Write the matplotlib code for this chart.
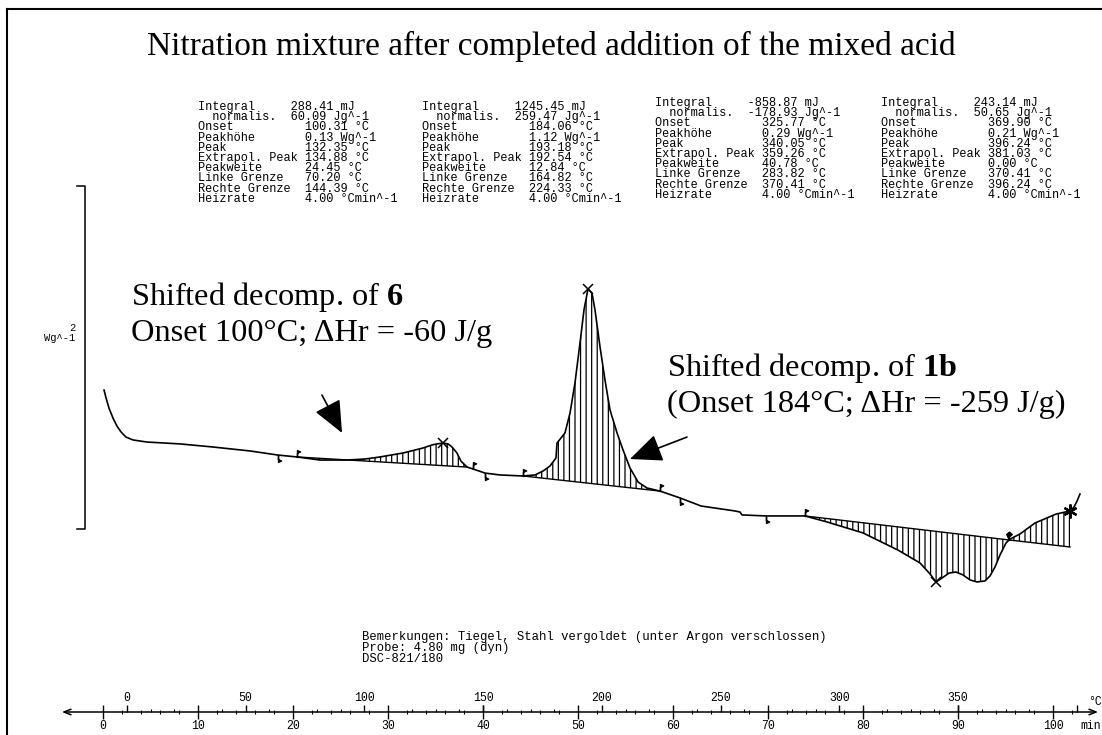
import numpy as np
import matplotlib
matplotlib.use('Agg')
import matplotlib.pyplot as plt
from matplotlib.path import Path
from matplotlib.lines import Line2D

plt.rcParams['mathtext.fontset'] = 'custom'
plt.rcParams['mathtext.rm'] = 'Liberation Serif'
plt.rcParams['mathtext.bf'] = 'Liberation Serif:bold'
plt.rcParams['hatch.linewidth'] = 0.9

SERIF = 'Liberation Serif'
MONO = 'Liberation Mono'

# DSC trace: time in min, heat flow in W/g (exo up)
time_min = [0.11, 0.32, 0.63, 1.05, 1.47, 1.89, 2.42, 3.16, 4.63, 8.11,
            11.58, 15.47, 18.42, 20.42, 22.84, 25.68, 27.58, 29.16, 31.58, 33.68,
            34.63, 35.16, 35.79, 36.32, 36.74, 37.26, 37.68, 38.32, 38.95, 40.21,
            41.79, 44.21, 45.47, 46.32, 47.05, 47.68, 47.79, 48.63, 49.16, 49.68,
            50.21, 50.63, 51.05, 51.47, 51.79, 52.32, 52.84, 53.37, 54.11, 54.74,
            55.47, 56.32, 57.26, 58.63, 60.74, 62.95, 66.53, 67.05, 67.26, 69.79,
            73.89, 76.21, 80.00, 83.68, 86.00, 87.05, 87.68, 88.32, 89.05, 89.79,
            90.53, 91.26, 92.00, 92.84, 93.37, 93.89, 94.42, 95.05, 95.37, 95.68,
            96.53, 98.11, 100.32, 101.79, 102.21, 102.53, 102.84]
heat_flow = [0.641, 0.595, 0.536, 0.478, 0.431, 0.397, 0.367, 0.350, 0.338, 0.327,
             0.309, 0.286, 0.262, 0.251, 0.233, 0.233, 0.239, 0.251, 0.274, 0.303,
             0.321, 0.327, 0.332, 0.327, 0.309, 0.274, 0.227, 0.192, 0.181, 0.157,
             0.146, 0.140, 0.146, 0.169, 0.198, 0.245, 0.332, 0.391, 0.507, 0.682,
             0.915, 1.108, 1.230, 1.207, 1.108, 0.892, 0.700, 0.525, 0.391, 0.292,
             0.187, 0.105, 0.070, 0.052, 0.012, -0.035, -0.064, -0.070, -0.087, -0.093,
             -0.093, -0.128, -0.192, -0.292, -0.367, -0.431, -0.478, -0.455, -0.426, -0.420,
             -0.437, -0.466, -0.478, -0.472, -0.443, -0.391, -0.321, -0.251, -0.233, -0.222,
             -0.198, -0.134, -0.082, -0.064, -0.041, -0.006, 0.035]

# integration baselines: (start, end) time and heat flow
base_t = [(20.42, 38.32), (44.21, 58.63), (73.89, 95.37), (95.37, 101.79)]
base_hf = [(0.251, 0.192), (0.140, 0.052), (-0.093, -0.233), (-0.233, -0.274)]

# evaluation marks on the trace
flag_up_t = [20.42, 38.95, 44.21, 58.63, 73.89]
flag_down_t = [18.42, 40.21, 60.74, 69.79]
diamond_t = [95.37]
peak_t = [35.79, 51.05, 87.68]
end_t = [101.79]

# scale bar
scale_wg = 2.0
scale_bottom = -0.17

# time axis / temperature axis
time_ticks = list(range(0, 101, 10))
temp_ticks = [0, 50, 100, 150, 200, 250, 300, 350, 400]
temp_labels = ['0', '50', '100', '150', '200', '250', '300', '350', '']
heat_rate = 4.0
temp_start = -10.0

row_labels = ['Integral', '  normalis.', 'Onset', 'Peakhöhe', 'Peak',
              'Extrapol. Peak', 'Peakweite', 'Linke Grenze', 'Rechte Grenze', 'Heizrate']
peak1_vals = ['288.41 mJ', '60.09 Jg^-1', '100.31 °C', '0.13 Wg^-1', '132.35 °C',
              '134.88 °C', '24.45 °C', '70.20 °C', '144.39 °C', '4.00 °Cmin^-1']
peak2_vals = ['1245.45 mJ', '259.47 Jg^-1', '184.06 °C', '1.12 Wg^-1', '193.18 °C',
              '192.54 °C', '12.84 °C', '164.82 °C', '224.33 °C', '4.00 °Cmin^-1']
peak3_vals = ['-858.87 mJ', '-178.93 Jg^-1', '325.77 °C', '0.29 Wg^-1', '340.05 °C',
              '359.26 °C', '40.78 °C', '283.82 °C', '370.41 °C', '4.00 °Cmin^-1']
peak4_vals = ['243.14 mJ', '50.65 Jg^-1', '369.90 °C', '0.21 Wg^-1', '396.24 °C',
              '381.03 °C', '0.00 °C', '370.41 °C', '396.24 °C', '4.00 °Cmin^-1']

notes = ['Bemerkungen: Tiegel, Stahl vergoldet (unter Argon verschlossen)',
         'Probe: 4.80 mg (dyn)',
         'DSC-821/180']

W, H = 1102, 735


def fx(x):
    return x / W


def fy(y):
    return 1 - y / H


fig = plt.figure(figsize=(W / 100, H / 100), dpi=100, facecolor='white')
ax = fig.add_axes([0, 0, 1, 1])
ax.set_xlim(-103 / 9.5, (W - 103) / 9.5)
ax.set_ylim((500 - H) / 171.5, 500 / 171.5)
ax.axis('off')

t = np.array(time_min)
hf = np.array(heat_flow)

for (t0, t1), (b0, b1) in zip(base_t, base_hf):
    m = (t >= t0 - 1e-9) & (t <= t1 + 1e-9)
    tt = t[m]
    base = np.interp(tt, [t0, t1], [b0, b1])
    ax.fill_between(tt, hf[m], base, facecolor='none', edgecolor='black',
                    hatch='|||', linewidth=0)
    ax.plot([t0, t1], [b0, b1], color='black', lw=1.0)

ax.plot(t, hf, color='black', lw=1.2, zorder=3)

# flag markers
up_flag = Path([(0, 0), (0, 1), (0.45, 0.8), (0, 0.6), (0, 0)],
               [Path.MOVETO, Path.LINETO, Path.LINETO, Path.LINETO, Path.CLOSEPOLY])
down_flag = Path([(0, 0), (0, -1), (0.45, -0.8), (0, -0.6), (0, 0)],
                 [Path.MOVETO, Path.LINETO, Path.LINETO, Path.LINETO, Path.CLOSEPOLY])
dia_flag = Path([(0, 0), (0, 0.45), (0.35, 0.75), (0, 1.05), (-0.35, 0.75), (0, 0.45)],
                [Path.MOVETO, Path.LINETO, Path.LINETO, Path.LINETO, Path.LINETO, Path.CLOSEPOLY])

ax.plot(flag_up_t, np.interp(flag_up_t, t, hf), ls='none', marker=up_flag,
        ms=10, color='black', mew=1, zorder=4)
ax.plot(flag_down_t, np.interp(flag_down_t, t, hf), ls='none', marker=down_flag,
        ms=10, color='black', mew=1, zorder=4)
ax.plot(diamond_t, np.interp(diamond_t, t, hf), ls='none', marker=dia_flag,
        ms=12, color='black', mew=1, zorder=4)
ax.plot(peak_t, np.interp(peak_t, t, hf), ls='none', marker='x',
        ms=7, color='black', mew=1.1, zorder=4)
ax.plot(end_t, np.interp(end_t, t, hf), ls='none', marker=(6, 2, 0),
        ms=10, color='black', mew=1.6, zorder=4)

# scale bar 2 W/g
bar_t, hook_t = -1.9, -2.74
ax.plot([hook_t, bar_t, bar_t, hook_t],
        [scale_bottom + scale_wg, scale_bottom + scale_wg, scale_bottom, scale_bottom],
        color='black', lw=1.1)
fig.text(fx(75), fy(331), '%d' % scale_wg, family=MONO, fontsize=7.5, ha='right', va='baseline')
fig.text(fx(75), fy(341), 'Wg^-1', family=MONO, fontsize=7.5, ha='right', va='baseline')

# arrows
arrow_kw = dict(arrowstyle='-|>,head_length=0.8,head_width=0.35', mutation_scale=25,
                lw=1.2, color='black', shrinkA=0, shrinkB=0)
ax.annotate('', xy=(25.16, 0.391), xytext=(23.05, 0.612), arrowprops=arrow_kw)
ax.annotate('', xy=(55.47, 0.239), xytext=(61.47, 0.367), arrowprops=arrow_kw)

# texts
fig.text(fx(551), fy(55), 'Nitration mixture after completed addition of the mixed acid',
         family=SERIF, fontsize=24, ha='center', va='baseline')
fig.text(fx(131), fy(305), r'Shifted decomp. of $\mathbf{6}$', family=SERIF, fontsize=23.3, va='baseline')
fig.text(fx(131), fy(341), 'Onset 100°C; ΔHr = -60 J/g', family=SERIF, fontsize=23.3, va='baseline')
fig.text(fx(667), fy(376), r'Shifted decomp. of $\mathbf{1b}$', family=SERIF, fontsize=23.3, va='baseline')
fig.text(fx(667), fy(412), '(Onset 184°C; ΔHr = -259 J/g)', family=SERIF, fontsize=23.3, va='baseline')

# result tables of the four evaluated peaks
blocks = [peak1_vals, peak2_vals, peak3_vals, peak4_vals]
block_x = [198, 422, 655, 881]
block_top = [101, 101, 97, 97]
for vals, bx, by in zip(blocks, block_x, block_top):
    lines = []
    for i, (lab, v) in enumerate(zip(row_labels, vals)):
        lines.append(lab.ljust(13 if i < 2 else 15) + v)
    fig.text(fx(bx), fy(by), '\n'.join(lines), family=MONO, fontsize=8.6,
             va='top', linespacing=0.8)

fig.text(fx(362), fy(631), '\n'.join(notes), family=MONO, fontsize=8.8,
         va='top', linespacing=0.9)

# frame of the printout
fig.add_artist(Line2D([fx(7), fx(7)], [0, fy(9)], color='black', lw=1.5))
fig.add_artist(Line2D([fx(7), 1], [fy(9), fy(9)], color='black', lw=1.5))

# time / temperature axis
axt = fig.add_axes([0, fy(712), 1, 0.0001])
axt.set_xlim(ax.get_xlim())
axt.patch.set_visible(False)
for s in axt.spines.values():
    s.set_visible(False)
axt.set_yticks([])
axt.set_xticks(time_ticks)
axt.set_xticks(np.arange(0, 103, 2), minor=True)
axt.tick_params(axis='x', which='major', direction='inout', length=10, width=1,
                labelsize=8.3, pad=1)
axt.tick_params(axis='x', which='minor', direction='inout', length=3, width=0.8)
for lab in axt.get_xticklabels():
    lab.set_family(MONO)

sec = axt.secondary_xaxis('top', functions=(lambda x: heat_rate * x + temp_start,
                                            lambda T: (T - temp_start) / heat_rate))
sec.spines['top'].set_visible(False)
sec.set_xticks(temp_ticks, temp_labels)
sec.set_xticks(np.arange(0, 401, 10), minor=True)
sec.tick_params(axis='x', which='major', direction='out', length=5, width=1,
                labelsize=8.3, pad=1)
sec.tick_params(axis='x', which='minor', direction='out', length=2.5, width=0.8)
for lab in sec.get_xticklabels():
    lab.set_family(MONO)

axt.annotate('', xy=(-4.32, 0), xytext=(104.74, 0), xycoords=axt.get_xaxis_transform(),
             arrowprops=dict(arrowstyle='<->,head_length=0.5,head_width=0.2', lw=1.1,
                             color='black', shrinkA=0, shrinkB=0))
fig.text(fx(1088), fy(705), '°C', family=MONO, fontsize=8.3, va='baseline')
fig.text(fx(1080), fy(729), 'min', family=MONO, fontsize=8.3, va='baseline')

fig.savefig('out.png', dpi=100)
